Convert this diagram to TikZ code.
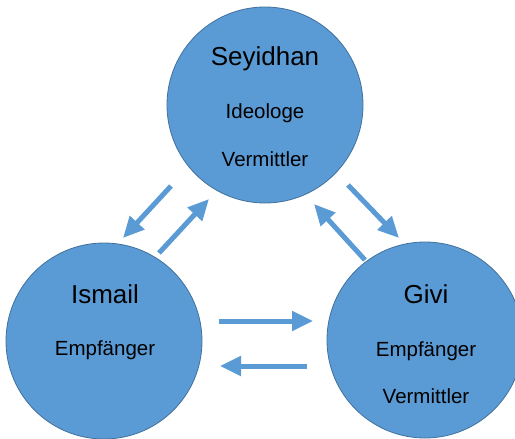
\documentclass[tikz,border=0pt]{standalone}
\usepackage{fontspec}
\setmainfont{Liberation Sans}
\usetikzlibrary{arrows.meta}
\definecolor{ballblue}{RGB}{91,155,213}
\definecolor{balledge}{RGB}{65,113,156}
\tikzset{
	person/.style={circle,fill=ballblue,draw=balledge,line width=.8pt,minimum size=196pt,inner sep=0pt},
	who/.style={anchor=base,font=\fontsize{26}{30}\selectfont},
	role/.style={anchor=base,font=\fontsize{20.5}{24}\selectfont},
	flow/.style={ballblue,line width=5pt,-{Triangle[length=21pt,width=19pt]}}
}
\begin{document}
\begin{tikzpicture}[x=1pt,y=-1pt]
		\clip(0,0) rectangle (515,439);
		\useasboundingbox(0,0) rectangle (515,439);
		% the three persons
		\node[person](seyidhan) at (265,105) {};
		\node[person](ismail) at (104,341) {};
		\node[person](givi) at (425,340) {};
		\node[who](seyidhanName) at (265,65) {Seyidhan};
		\node[role](seyidhanRoleA) at (265,118) {Ideologe};
		\node[role](seyidhanRoleB) at (265,166) {Vermittler};
		\node[who](ismailName) at (105,303) {Ismail};
		\node[role](ismailRole) at (105,355) {Empfänger};
		\node[who](giviName) at (426,303) {Givi};
		\node[role](giviRoleA) at (426,356) {Empfänger};
		\node[role](giviRoleB) at (426,403) {Vermittler};
		% arrow ends
		\coordinate(sToIa) at (171,186);
		\coordinate(sToIb) at (123,238);
		\coordinate(iToSa) at (159,253);
		\coordinate(iToSb) at (209,199);
		\coordinate(sToGa) at (348,185);
		\coordinate(sToGb) at (399,238);
		\coordinate(gToSa) at (365,260);
		\coordinate(gToSb) at (314,204);
		\coordinate(iToGa) at (219,321);
		\coordinate(iToGb) at (313,321);
		\coordinate(gToIa) at (307,366);
		\coordinate(gToIb) at (220,366);
		\draw[flow](sToIa)--(sToIb);
		\draw[flow](iToSa)--(iToSb);
		\draw[flow](sToGa)--(sToGb);
		\draw[flow](gToSa)--(gToSb);
		\draw[flow](iToGa)--(iToGb);
		\draw[flow](gToIa)--(gToIb);
	    \end{tikzpicture}
\end{document}
